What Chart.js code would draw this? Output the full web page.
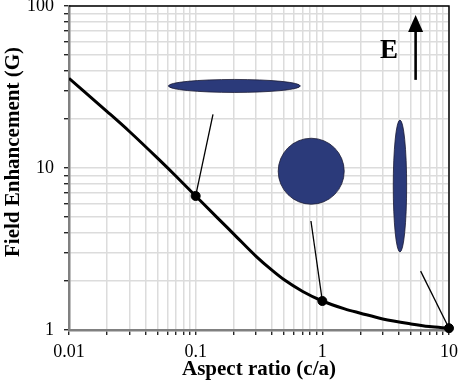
<!DOCTYPE html>
<html>
<head>
<meta charset="utf-8">
<script src="https://cdn.jsdelivr.net/npm/chart.js@4.4.1/dist/chart.umd.min.js"></script>
<style>
  body { margin: 0; background: #fff; }
</style>
</head>
<body>
<canvas id="chart" width="467" height="386"></canvas>
<script>
// Curve (aspect ratio c/a -> field enhancement G)
const aspectRatio = [0.01, 0.02, 0.03, 0.05, 0.07, 0.1, 0.15, 0.2, 0.3, 0.4, 0.5, 0.7, 1, 1.5, 2, 3, 5, 7, 10];
const enhancement = [35.8, 22.3, 16.8, 11.5, 8.89, 6.72, 4.89, 3.91, 2.85, 2.34, 2.04, 1.73, 1.51, 1.35, 1.27, 1.17, 1.09, 1.05, 1.026];

// Marked points
const markX = [0.1, 1, 10];
const markY = [6.72, 1.51, 1.026];

// Axis ticks
const xMajor = [0.01, 0.1, 1, 10];
const xTickLabels = ['0.01', '0.1', '1', '10'];
const yMajor = [1, 10, 100];
const yTickLabels = ['1', '10', '100'];

// Leader line start points (end at the marked points)
const leaderX = [0.137, 0.813, 5.97];
const leaderY = [21.4, 4.71, 2.31];

const serif = '"Liberation Serif", "Times New Roman", serif';

function logTicks(majors) {
  const out = [];
  for (let i = 0; i < majors.length - 1; i++) {
    for (let m = 1; m < 10; m++) out.push(Number((majors[i] * m).toPrecision(6)));
  }
  out.push(majors[majors.length - 1]);
  return out;
}

// Shapes, arrow, borders and y title drawn over the plot
const overlay = {
  id: 'overlay',
  beforeDatasetsDraw(chart) {
    const { ctx, chartArea: a } = chart;
    ctx.save();
    ctx.strokeStyle = '#000';
    ctx.lineWidth = 1.5;
    ctx.beginPath();
    ctx.moveTo(a.left, a.top);
    ctx.lineTo(a.right, a.top);
    ctx.lineTo(a.right, a.bottom);
    ctx.stroke();
    ctx.restore();
  },
  afterDatasetsDraw(chart) {
    const { ctx, scales: { x, y } } = chart;
    ctx.save();

    // leader lines
    ctx.strokeStyle = '#000';
    ctx.lineWidth = 1.3;
    for (let i = 0; i < leaderX.length; i++) {
      ctx.beginPath();
      ctx.moveTo(x.getPixelForValue(leaderX[i]), y.getPixelForValue(leaderY[i]));
      ctx.lineTo(x.getPixelForValue(markX[i]), y.getPixelForValue(markY[i]));
      ctx.stroke();
    }

    // particles
    const shapes = [
      { cx: 0.202, cy: 32.1, rx: 66, ry: 6.5 },
      { cx: 0.817, cy: 9.55, rx: 33, ry: 33 },
      { cx: 4.10, cy: 7.74, rx: 6.7, ry: 66 }
    ];
    ctx.fillStyle = '#2b3a7a';
    ctx.strokeStyle = '#1a1a33';
    ctx.lineWidth = 0.8;
    shapes.forEach(s => {
      ctx.beginPath();
      ctx.ellipse(x.getPixelForValue(s.cx), y.getPixelForValue(s.cy), s.rx, s.ry, 0, 0, Math.PI * 2);
      ctx.fill();
      ctx.stroke();
    });

    // field arrow
    const ax = x.getPixelForValue(5.45);
    const tip = y.getPixelForValue(88);
    const tail = y.getPixelForValue(35);
    ctx.strokeStyle = '#000';
    ctx.lineWidth = 2.6;
    ctx.beginPath();
    ctx.moveTo(ax, tail);
    ctx.lineTo(ax, tip + 10);
    ctx.stroke();
    ctx.fillStyle = '#000';
    ctx.beginPath();
    ctx.moveTo(ax, tip);
    ctx.lineTo(ax - 7.5, tip + 17);
    ctx.lineTo(ax + 7.5, tip + 17);
    ctx.closePath();
    ctx.fill();

    ctx.font = 'bold 27px ' + serif;
    ctx.textAlign = 'center';
    ctx.textBaseline = 'alphabetic';
    ctx.fillText('E', x.getPixelForValue(3.36), y.getPixelForValue(47.7));
    ctx.restore();
  },
  afterDraw(chart) {
    const { ctx } = chart;
    ctx.save();
    ctx.translate(14, 152);
    ctx.rotate(-Math.PI / 2);
    ctx.font = 'bold 21px ' + serif;
    ctx.fillStyle = '#000';
    ctx.textAlign = 'center';
    ctx.textBaseline = 'middle';
    ctx.fillText('Field Enhancement (G)', 0, 0);
    ctx.restore();
  }
};

const ctx = document.getElementById('chart').getContext('2d');
const chart = new Chart(ctx, {
  type: 'line',
  data: {
    datasets: [{
      data: aspectRatio.map((v, i) => ({ x: v, y: enhancement[i] })),
      borderColor: '#000',
      borderWidth: 3,
      pointRadius: 0,
      cubicInterpolationMode: 'monotone',
      fill: false
    }, {
      data: markX.map((v, i) => ({ x: v, y: markY[i] })),
      showLine: false,
      pointRadius: 4.5,
      pointBackgroundColor: '#000',
      pointBorderColor: '#000',
      clip: false
    }]
  },
  options: {
    responsive: false,
    animation: false,
    devicePixelRatio: 1,
    layout: { padding: { top: 6, right: 18, left: 0, bottom: 0 } },
    plugins: {
      legend: { display: false },
      tooltip: { enabled: false }
    },
    scales: {
      x: {
        type: 'logarithmic',
        min: 0.01,
        max: 10,
        afterFit: s => { s.height = 56; s.paddingLeft = 0; s.paddingRight = 0; },
        afterBuildTicks: s => { s.ticks = logTicks(xMajor).map(v => ({ value: v })); },
        border: { color: '#808080', width: 2.5 },
        grid: { color: '#dcdcdc', lineWidth: 1.5, tickLength: 5, tickColor: '#000', tickWidth: 1.2 },
        ticks: {
          autoSkip: false,
          maxRotation: 0,
          padding: 6,
          color: '#000',
          font: { family: serif, size: 18 },
          callback: v => {
            const i = xMajor.indexOf(v);
            return i >= 0 ? xTickLabels[i] : '';
          }
        },
        title: {
          display: true,
          text: 'Aspect ratio (c/a)',
          color: '#000',
          font: { family: serif, size: 21, weight: 'bold' },
          padding: { top: 0, bottom: 4 }
        }
      },
      y: {
        type: 'logarithmic',
        min: 1,
        max: 100,
        afterFit: s => { s.width = 69; s.paddingTop = 0; s.paddingBottom = 0; },
        afterBuildTicks: s => { s.ticks = logTicks(yMajor).map(v => ({ value: v })); },
        border: { color: '#808080', width: 2.5 },
        grid: { color: '#dcdcdc', lineWidth: 1.5, tickLength: 5, tickColor: '#000', tickWidth: 1.2 },
        ticks: {
          autoSkip: false,
          padding: 10,
          color: '#000',
          font: { family: serif, size: 18 },
          callback: v => {
            const i = yMajor.indexOf(v);
            return i >= 0 ? yTickLabels[i] : '';
          }
        }
      }
    }
  },
  plugins: [overlay]
});
</script>
</body>
</html>
